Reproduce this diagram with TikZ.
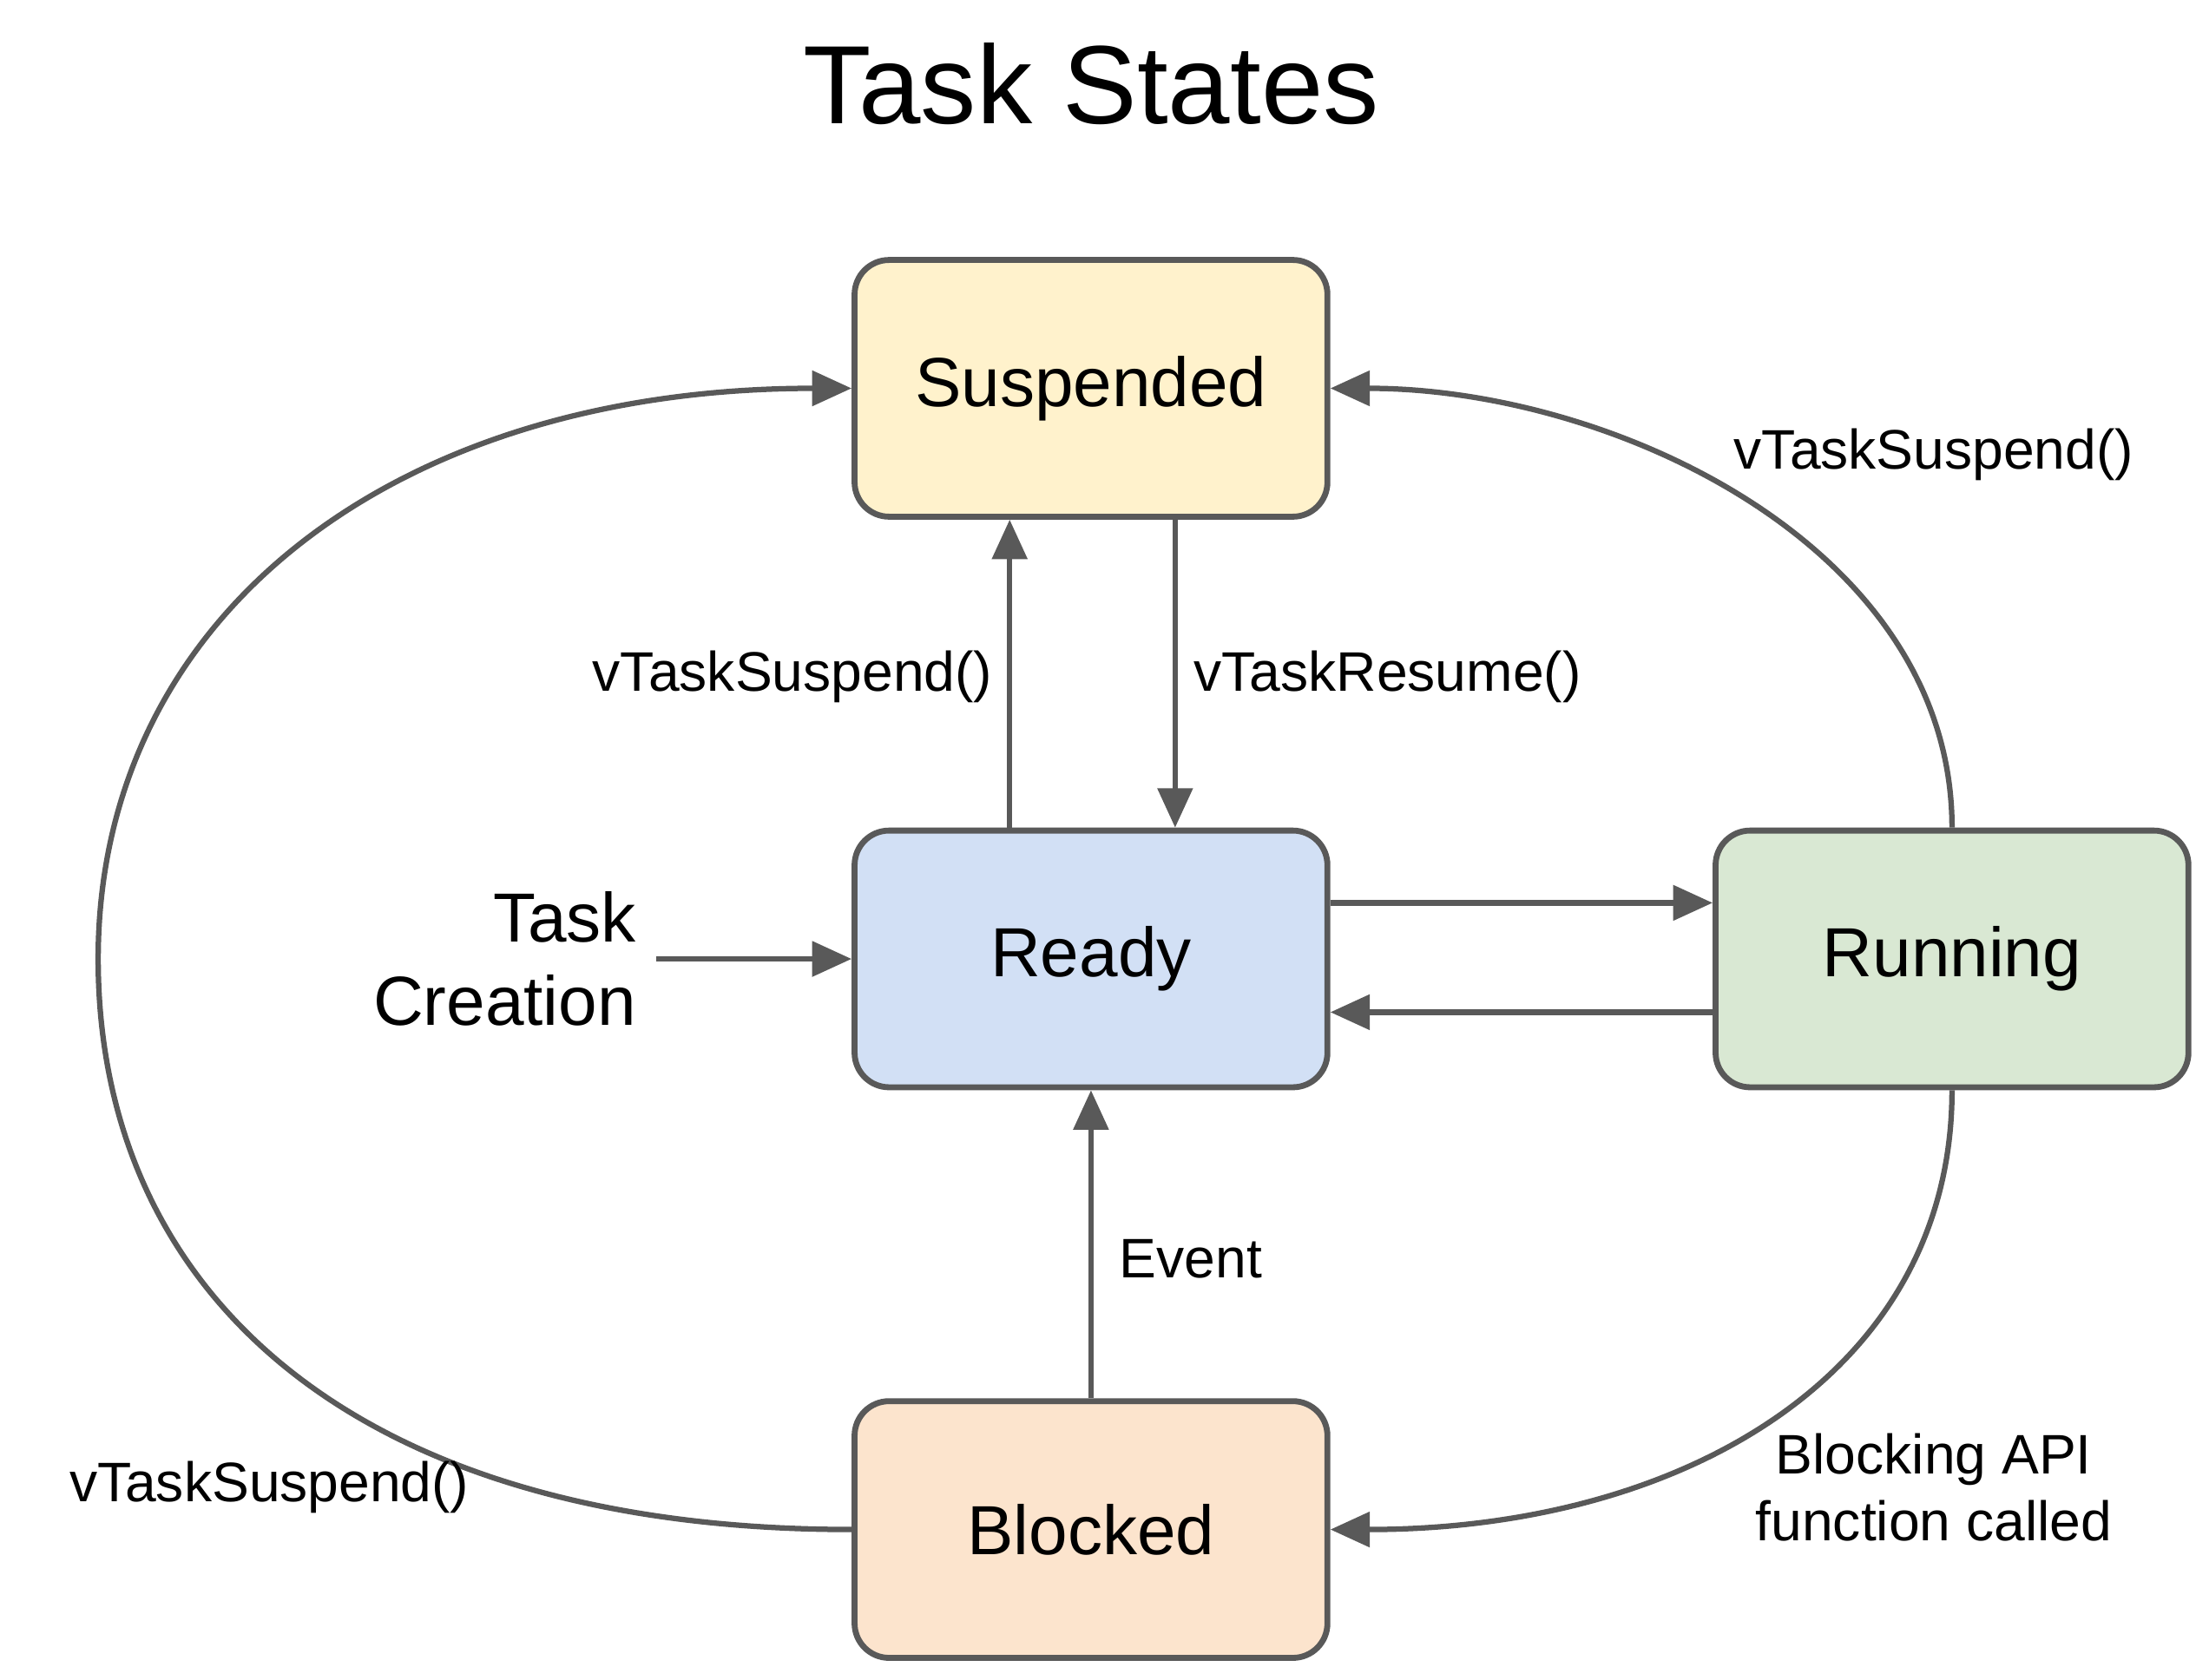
\documentclass[tikz,border=0pt]{standalone}
\usepackage{fontspec}
\setmainfont{Liberation Sans}
\usetikzlibrary{arrows.meta}
\definecolor{edge}{HTML}{595959}
\begin{document}
\begin{tikzpicture}[x=0.01cm,y=-0.01cm,
  st/.style={draw=edge,line width=1.2pt,rounded corners=7pt,minimum width=3.37cm,minimum height=1.83cm,font=\fontsize{14.1}{16}\selectfont},
  ar/.style={draw=edge,line width=1.1pt,-{Triangle[length=8pt,width=7pt]}},
  lb/.style={font=\fontsize{11.3}{13.5}\selectfont,text=black}]
\useasboundingbox (0,0) rectangle (1566,1198);
\node[font=\fontsize{22.6}{27}\selectfont] (title) at (778,60) {Task States};
\node[st,fill={rgb,255:red,255;green,242;blue,204}] (sus) at (778,277) {Suspended};
\node[st,fill={rgb,255:red,210;green,224;blue,245}] (rdy) at (778,684) {Ready};
\node[st,fill={rgb,255:red,217;green,232;blue,211}] (run) at (1392,684) {Running};
\node[st,fill={rgb,255:red,252;green,228;blue,205}] (blk) at (778,1091) {Blocked};
\node[font=\fontsize{14.1}{16.8}\selectfont,align=right,anchor=east] (tc) at (466,684) {Task\\Creation};
\coordinate (tcs) at (468,684);
\draw[ar] (tcs) -- (rdy.west);
\draw[ar] (rdy.north -| 720,0) -- (sus.south -| 720,0);
\draw[ar] (sus.south -| 838,0) -- (rdy.north -| 838,0);
\draw[ar] (rdy.east |- 0,644) -- (run.west |- 0,644);
\draw[ar] (run.west |- 0,722) -- (rdy.east |- 0,722);
\draw[ar] (blk.north) -- (rdy.south);
\draw[ar] (blk.west) .. controls (250,1091) and (70,920) .. (70,684) .. controls (70,440) and (280,277) .. (sus.west);
\draw[ar] (run.north) .. controls (1392,390) and (1150,277) .. (sus.east);
\draw[ar] (run.south) .. controls (1392,980) and (1200,1091) .. (blk.east);
\node[lb,anchor=east] (l1) at (720,483) {vTaskSuspend()};
\node[lb,anchor=west] (l2) at (839,483) {vTaskResume()};
\node[lb,anchor=west] (l4) at (786,898) {Event};
\node[lb] (l3) at (1379,324) {vTaskSuspend()};
\node[lb] (l5) at (192,1061) {vTaskSuspend()};
\node[lb,align=center] (l6) at (1379,1061) {Blocking API\\function called};
\end{tikzpicture}
\end{document}
